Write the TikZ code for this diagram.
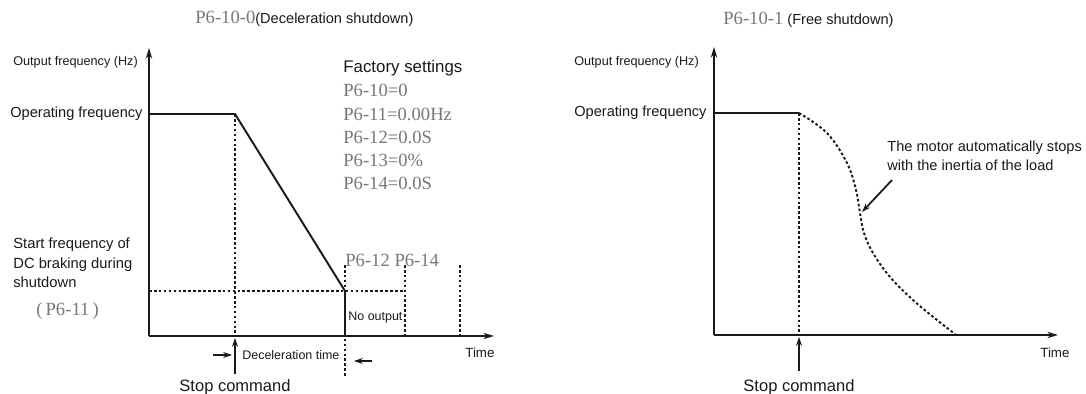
\documentclass[tikz,border=0pt]{standalone}
\usepackage{fontspec}
\setmainfont{Liberation Sans}
\newfontfamily\serifnum{Liberation Serif}
\usetikzlibrary{arrows.meta}
\definecolor{ink}{HTML}{1A1A1A}
\definecolor{gtxt}{HTML}{787878}
\begin{document}
\begin{tikzpicture}[x=0.02cm,y=-0.02cm,
  axis/.style={line width=1.1pt,draw=ink,-{Stealth[length=6pt,width=3.6pt]}},
  solidline/.style={line width=1.1pt,draw=ink},
  dots/.style={line width=1.1pt,draw=ink,dash pattern=on 1.5pt off 1.3pt},
  ptr/.style={line width=1pt,draw=ink,-{Stealth[length=5pt,width=3.4pt]}},
  lbl/.style={inner sep=0,text=ink,anchor=west},
  small/.style={lbl,font=\fontsize{7.2pt}{8.6pt}\selectfont},
  mid/.style={lbl,font=\fontsize{8.3pt}{10.8pt}\selectfont},
  big/.style={lbl,font=\fontsize{9.4pt}{11pt}\selectfont},
  param/.style={inner sep=0,anchor=west,text=gtxt,font=\serifnum\fontsize{10.6pt}{12pt}\selectfont},
]
\useasboundingbox[fill=white] (0,0) rectangle (1086,394);

% ---------- left chart ----------
\coordinate (O1) at (149,336);
\coordinate (Y1) at (149,48);
\coordinate (X1) at (494,336);
\coordinate (A1) at (149,114);
\coordinate (B1) at (235,114);
\coordinate (C1) at (345,291);
\coordinate (D1) at (345,336);
\coordinate (H1) at (149,291);
\coordinate (H1e) at (405,291);
\coordinate (V1b) at (235,336);
\coordinate (V2t) at (345,265);
\coordinate (V2b) at (345,377);
\coordinate (V3t) at (405,265);
\coordinate (V3b) at (405,334);
\coordinate (V4t) at (460,265);
\coordinate (V4b) at (460,334);
\coordinate (S1t) at (235,338);
\coordinate (S1b) at (235,374);
\coordinate (L1a) at (213,355);
\coordinate (L1b) at (232,355);
\coordinate (R1a) at (372,361);
\coordinate (R1b) at (354,361);

\draw[axis] (O1) -- (Y1);
\draw[axis] (O1) -- (X1);
\draw[solidline] (A1) -- (B1) -- (C1) -- (D1);
\draw[dots] (B1) -- (V1b);
\draw[dots] (H1) -- (H1e);
\draw[dots] (V2t) -- (V2b);
\draw[dots] (V3t) -- (V3b);
\draw[dots] (V4t) -- (V4b);
\draw[ptr] (S1b) -- (S1t);
\draw[ptr] (L1a) -- (L1b);
\draw[ptr] (R1a) -- (R1b);

\node[lbl,font=\fontsize{8.3pt}{10pt}\selectfont] (title1) at (195,19)
  {{\serifnum\color{gtxt}\fontsize{10.6pt}{12pt}\selectfont P6-10-0}(Deceleration shutdown)};
\node[small] (yl1) at (13,62) {Output frequency (Hz)};
\node[mid] (op1) at (10,114) {Operating frequency};
\node[lbl,font=\fontsize{9.6pt}{11pt}\selectfont] (fs) at (343,68) {Factory settings};
\node[param] (pa) at (343,90) {P6-10=0};
\node[param] (pb) at (343,114) {P6-11=0.00Hz};
\node[param] (pc) at (343,137) {P6-12=0.0S};
\node[param] (pd) at (343,160) {P6-13=0\%};
\node[param] (pe) at (343,183) {P6-14=0.0S};
\node[mid,align=left,font=\fontsize{8.4pt}{11pt}\selectfont] (stf) at (13,263)
  {Start frequency of\\DC braking during\\shutdown};
\node[param] (p611) at (36,311) {(\,P6-11\,)};
\node[param] (p612) at (345,260) {P6-12 P6-14};
\node[small,font=\fontsize{7.1pt}{8.6pt}\selectfont] (noout) at (348,318) {No output};
\node[small,font=\fontsize{7.1pt}{8.6pt}\selectfont] (dect) at (242,355) {Deceleration time};
\node[small,font=\fontsize{7.6pt}{8.6pt}\selectfont] (time1) at (465,353) {Time};
\node[big,anchor=center] (stop1) at (235,387) {Stop command};

% ---------- right chart ----------
\coordinate (O2) at (714,335);
\coordinate (Y2) at (714,47);
\coordinate (X2) at (1058,335);
\coordinate (A2) at (714,113);
\coordinate (B2) at (799,113);
\coordinate (V5b) at (799,335);
\coordinate (S2t) at (799,337);
\coordinate (S2b) at (799,371);
\coordinate (M2a) at (892,180);
\coordinate (M2b) at (862,212);

\draw[axis] (O2) -- (Y2);
\draw[axis] (O2) -- (X2);
\draw[solidline] (A2) -- (B2);
\draw[dots] (B2) -- (V5b);
\draw[dots] plot[smooth,tension=0.6] coordinates {(799,113) (827,133) (847,163) (856,190) (860,213) (864,233) (873,253) (890,277) (913,300) (937,320) (955,334)};
\draw[ptr] (S2b) -- (S2t);
\draw[ptr] (M2a) -- (M2b);

\node[lbl,font=\fontsize{8.3pt}{10pt}\selectfont] (title2) at (723,20)
  {{\serifnum\color{gtxt}\fontsize{10.6pt}{12pt}\selectfont P6-10-1} (Free shutdown)};
\node[small] (yl2) at (574,62) {Output frequency (Hz)};
\node[mid] (op2) at (574,113) {Operating frequency};
\node[mid,align=left,font=\fontsize{8.3pt}{10.8pt}\selectfont] (motor) at (887,156)
  {The motor automatically stops\\with the inertia of the load};
\node[small,font=\fontsize{7.6pt}{8.6pt}\selectfont] (time2) at (1040,353) {Time};
\node[big,anchor=center] (stop2) at (799,387) {Stop command};
\end{tikzpicture}
\end{document}
